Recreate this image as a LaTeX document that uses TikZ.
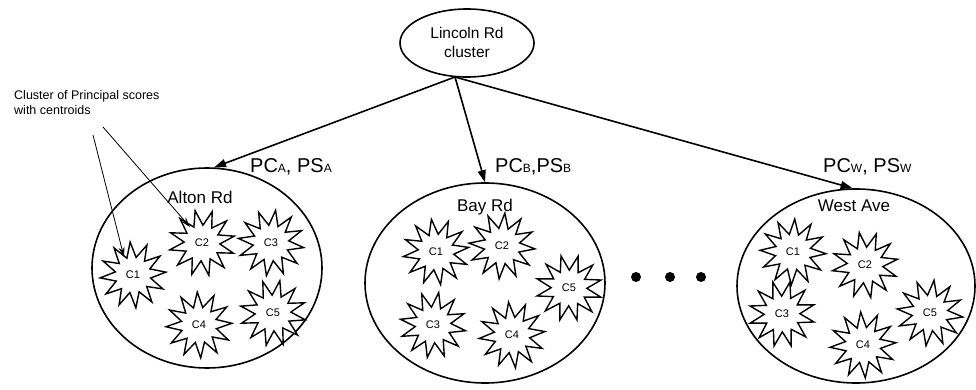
\documentclass[tikz,border=0pt]{standalone}
\usepackage{fontspec}
\setmainfont{Liberation Sans}
\usetikzlibrary{shapes.geometric,arrows.meta}
\begin{document}
\begin{tikzpicture}[x=1pt,y=-1pt,
  region/.style={ellipse,draw,line width=1.6pt,inner sep=0pt},
  burst/.style={star,draw,line width=1.4pt,fill=white,star points=12,
    star point ratio=1.85,minimum size=66pt,inner sep=0pt,
    font=\fontsize{11}{12}\selectfont},
  title/.style={anchor=base,font=\fontsize{17}{17}\selectfont},
  big/.style={font=\fontsize{20}{20}\selectfont},
  link/.style={line width=1.6pt,-{Triangle[length=12pt,width=8pt]}},
  note/.style={line width=0.8pt,-{Stealth[length=10pt,width=6pt]}},
  dot/.style={circle,fill,inner sep=0pt,minimum size=10pt}]
\useasboundingbox (0,0) rectangle (976,390);
\newcommand{\sub}[1]{{\fontsize{12}{12}\selectfont #1}}

% root cluster
\node[region,minimum width=134pt,minimum height=68pt] (root) at (467,43) {};
\node[anchor=base,font=\fontsize{15.5}{15.5}\selectfont] (rootA) at (467,39) {Lincoln Rd};
\node[anchor=base,font=\fontsize{15.5}{15.5}\selectfont] (rootB) at (467,58) {cluster};
\coordinate (hub) at (455,77);

% road clusters
\node[region,minimum width=230pt,minimum height=200pt] (alton) at (207,268) {};
\node[region,minimum width=240pt,minimum height=200pt] (bay) at (485,283) {};
\node[region,minimum width=238pt,minimum height=194pt] (west) at (856,286) {};

% connectors with their labels
\draw[link] (hub) -- (alton.86);
\draw[link] (hub) -- (bay.north);
\draw[link] (hub) -- (west.92);
\node[big,anchor=base west,inner sep=0pt] (la) at (250,173) {PC\sub{A}, PS\sub{A}};
\node[big,anchor=base west,inner sep=0pt] (lb) at (495,173) {PC\sub{B},PS\sub{B}};
\node[big,anchor=base west,inner sep=0pt] (lw) at (823,172) {PC\sub{W}, PS\sub{W}};

% centroid clusters, Alton Rd
\node[burst,shape border rotate=5] (a1) at (133,275) {C1};
\node[burst,shape border rotate=12] (a2) at (202,243) {C2};
\node[burst,shape border rotate=-8] (a3) at (271,243) {C3};
\node[burst,shape border rotate=3] (a4) at (199,325) {C4};
\node[burst,shape border rotate=-12] (a5) at (273,313) {C5};

% centroid clusters, Bay Rd
\node[burst,shape border rotate=8] (b1) at (436,252) {C1};
\node[burst,shape border rotate=-5] (b2) at (502,246) {C2};
\node[burst,shape border rotate=14] (b5) at (569,288) {C5};
\node[burst,shape border rotate=-10] (b3) at (433,325) {C3};
\node[burst,shape border rotate=6] (b4) at (512,335) {C4};

% centroid clusters, West Ave
\node[burst,shape border rotate=-3] (w1) at (793,252) {C1};
\node[burst,shape border rotate=10] (w2) at (865,265) {C2};
\node[burst,shape border rotate=-14] (w3) at (782,314) {C3};
\node[burst,shape border rotate=4] (w4) at (863,345) {C4};
\node[burst,shape border rotate=-7] (w5) at (930,313) {C5};

% cluster titles, on top of the bursts
\node[title] (altonT) at (200,203) {Alton Rd};
\node[title] (bayT) at (485,211) {Bay Rd};
\node[title] (westT) at (854,211) {West Ave};

% ellipsis between clusters
\node[dot] (d1) at (636,277) {};
\node[dot] (d2) at (670,277) {};
\node[dot] (d3) at (701,277) {};

% annotation
\node[anchor=base west,inner sep=0pt,font=\fontsize{12.5}{15}\selectfont,align=left] (note) at (14,115)
  {Cluster of Principal scores\\with centroids};
\coordinate (n1) at (93,135);
\coordinate (n2) at (103,127);
\coordinate (t1) at (124,257);
\coordinate (t2) at (190,227);
\draw[note] (n1) -- (t1);
\draw[note] (n2) -- (t2);
\end{tikzpicture}
\end{document}
